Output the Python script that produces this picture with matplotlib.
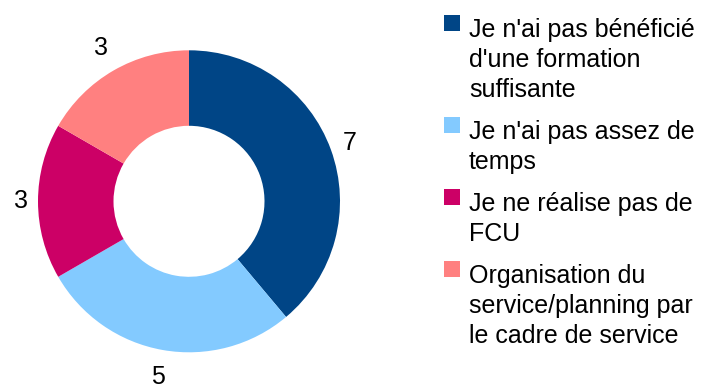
import numpy as np
import matplotlib.pyplot as plt
from matplotlib.patches import Rectangle

plt.rcParams['font.family'] = ['Liberation Sans', 'DejaVu Sans']

reasons = [
    "Je n'ai pas bénéficié\nd'une formation\nsuffisante",
    "Je n'ai pas assez de\ntemps",
    "Je ne réalise pas de\nFCU",
    "Organisation du\nservice/planning par\nle cadre de service",
]
counts = [7, 5, 3, 3]
colors = ['#004586', '#83caff', '#cc0066', '#ff8080']

W, H = 706, 387


def fx(px):
    return px / W


def fy(py):
    return 1 - py / H


fig = plt.figure(figsize=(W / 100, H / 100), dpi=100)

# donut: centre (189, 201) px, outer radius 151 px
cx, cy, R = 189, 201.3, 151
ax = fig.add_axes([fx(cx - R), fy(cy + R), 2 * R / W, 2 * R / H])
ax.pie(counts, colors=colors, startangle=90, counterclock=False,
       wedgeprops=dict(width=0.5, linewidth=0))
ax.set_xlim(-1, 1)
ax.set_ylim(-1, 1)
ax.set_aspect('auto')
ax.axis('off')

# value labels outside the ring
total = sum(counts)
start = 90.0
for v in counts:
    sweep = 360.0 * v / total
    mid = np.radians(start - sweep / 2)
    r = 1.11 + 0.07 * abs(np.sin(mid))
    ax.text(r * np.cos(mid), r * np.sin(mid), str(v), fontsize=18,
            ha='center', va='center', clip_on=False)
    start -= sweep

# legend on the right, one text line at a time (30 px apart)
line_h = 30
y = 37
for label, c in zip(reasons, colors):
    fig.add_artist(Rectangle((fx(444), fy(y - 6)), 16 / W, 16 / H,
                             transform=fig.transFigure, color=c, lw=0))
    lines = label.split('\n')
    for i, s in enumerate(lines):
        fig.text(fx(469), fy(y + i * line_h), s, fontsize=18,
                 ha='left', va='baseline')
    y += line_h * len(lines) + 12

fig.savefig('out.png', dpi=100)
